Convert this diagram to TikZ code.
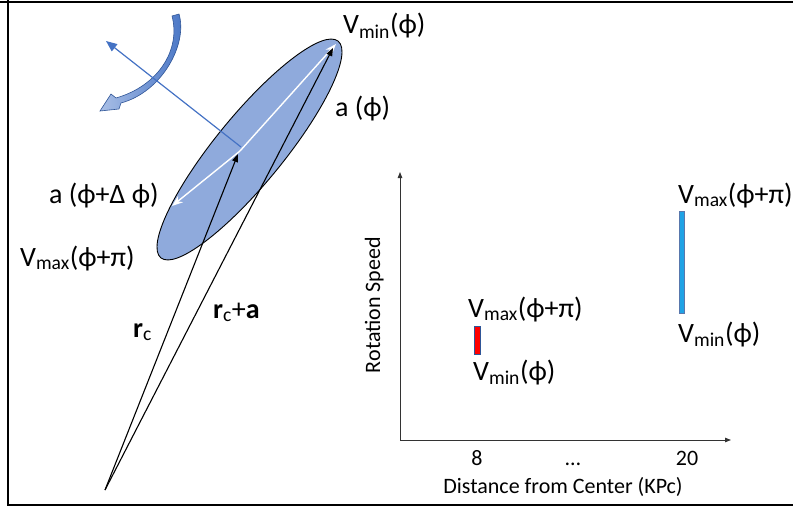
\documentclass[tikz,border=0pt]{standalone}
\usepackage{fontspec}
\setmainfont{Carlito}
\usetikzlibrary{arrows.meta,positioning,calc}

\definecolor{ellipseBlue}{HTML}{8FAADC}
\definecolor{normalBlue}{HTML}{4472C4}
\definecolor{spinDark}{HTML}{2F5597}
\definecolor{spinLight}{HTML}{A9BFE6}
\definecolor{barRed}{HTML}{FF0000}
\definecolor{barBlue}{HTML}{1FA2E5}

\newcommand{\Vsub}[1]{V\textsubscript{#1}}

\begin{document}
\begin{tikzpicture}[
    x=1pt, y=-1pt,
    >=Stealth,
    bigLabel/.style={
        font=\fontsize{28pt}{32pt}\selectfont,
        inner sep=0pt,
        anchor=base west
    },
    axisLabel/.style={
        font=\fontsize{22pt}{26pt}\selectfont,
        inner sep=0pt,
        anchor=base
    },
    vecLine/.style={
        line width=1.1pt,
        draw=black,
        -{Triangle[length=8pt,width=6pt]}
    },
    whiteArrow/.style={
        line width=1.4pt,
        draw=white,
        -{Stealth[length=11pt,width=8pt]}
    },
    axisLine/.style={
        line width=0.9pt,
        draw=black!80,
        -{Triangle[length=6pt,width=4.5pt]}
    },
    frameLine/.style={
        line width=2.4pt,
        draw=black
    }
]
\useasboundingbox (0,0) rectangle (793,506);

% ==================== FRAME ====================
\draw[frameLine] (8,0) -- (8,506);
\draw[frameLine, line width=2pt] (0,2) -- (793,2);
\draw[frameLine, line width=2pt] (8,504.5) -- (793,504.5);

% ==================== DISK & VECTORS ====================
\coordinate (origin) at (105,490);
\coordinate (center) at (240,151);
\coordinate (rcTip) at (238,154);
\coordinate (tipMin) at (336,44);
\coordinate (rcaTip) at (333,48);
\coordinate (tipDelta) at (172,206);
\coordinate (normalStart) at (241,147);
\coordinate (normalEnd) at (106,41);

\draw[fill=ellipseBlue, line width=0.9pt, rotate around={50.7:(249.5,149.5)}]
    (249.5,149.5) ellipse [x radius=140, y radius=34];

\shade[left color=spinLight, right color=normalBlue, draw=spinDark, line width=0.6pt]
    (172,16) -- (179,14) .. controls (188,44) and (162,92) .. (121,103)
    -- (119,109) -- (100,111) -- (111,94) -- (116,98)
    .. controls (158,86) and (181,50) .. (172,16) -- cycle;

\draw[normalBlue, line width=1.2pt, -{Triangle[length=11pt,width=9pt]}] (normalStart) -- (normalEnd);

\draw[whiteArrow] (center) -- (tipMin);
\draw[whiteArrow] (center) -- (tipDelta);

\draw[vecLine] (origin) -- (rcTip);
\draw[vecLine] (origin) -- (rcaTip);

\node[bigLabel] (vminTop) at (343,34) {\Vsub{min}(ϕ)};
\node[bigLabel] (aPhi) at (335,116) {a (ϕ)};
\node[bigLabel] (aDelta) at (49,203) {a (ϕ+Δ ϕ)};
\node[bigLabel] (vmaxLeft) at (20,266) {\Vsub{max}(ϕ+π)};
\node[bigLabel] (rcLabel) at (133,337) {\textbf{r}\textsubscript{c}};
\node[bigLabel] (rcaLabel) at (213,318) {\textbf{r}\textsubscript{c}+\textbf{a}};

% ==================== ROTATION CURVE PLOT ====================
\coordinate (plotOrigin) at (400,440);
\coordinate (yTop) at (400,172);
\coordinate (xEnd) at (731,440);

\draw[axisLine] (plotOrigin) -- (yTop);
\draw[axisLine] (plotOrigin) -- (xEnd);

\node[axisLabel, rotate=90] (speedLabel) at (380,305) {Rotation Speed};
\node[axisLabel] (distLabel) at (563,493) {Distance from Center (KPc)};
\node[axisLabel] (tickNear) at (477,465) {8};
\node[axisLabel] (tickDots) at (573,465) {…};
\node[axisLabel] (tickFar) at (687,465) {20};

\draw[fill=barRed, draw=spinDark, line width=0.5pt] (474,326) rectangle (480,354);
\draw[fill=barBlue, draw=spinDark!80, line width=0.5pt] (679,211) rectangle (684,313);

\node[bigLabel] (vmaxNear) at (468,317) {\Vsub{max}(ϕ+π)};
\node[bigLabel] (vminNear) at (473,380) {\Vsub{min}(ϕ)};
\node[bigLabel] (vmaxFar) at (678,203) {\Vsub{max}(ϕ+π)};
\node[bigLabel] (vminFar) at (678,342) {\Vsub{min}(ϕ)};

\end{tikzpicture}
\end{document}
